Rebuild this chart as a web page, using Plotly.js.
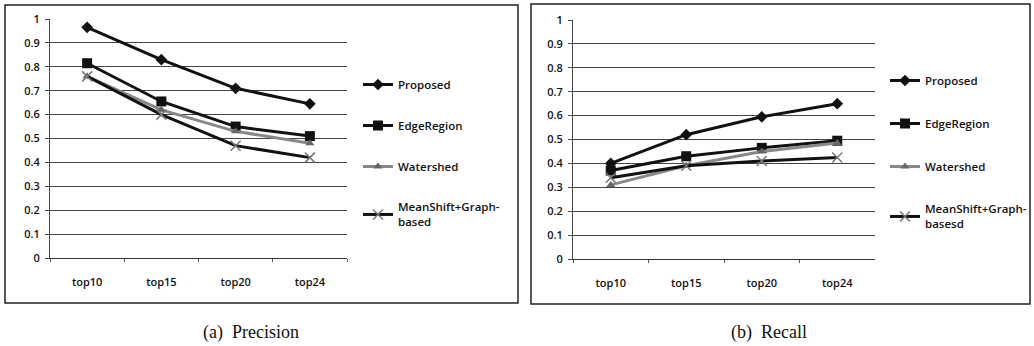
<!DOCTYPE html>
<html>
<head>
<meta charset="utf-8">
<script src="https://cdn.plot.ly/plotly-3.0.1.min.js"></script>
<style>html,body{margin:0;padding:0;background:#fff;}#chart{width:1034px;height:346px;}</style>
</head>
<body>
<div id="chart"></div>
<script>
const categories = ["top10", "top15", "top20", "top24"];
const seriesNames = ["Proposed", "EdgeRegion", "Watershed", "MeanShift+Graph-<br>based"];
const seriesNamesRecall = ["Proposed", "EdgeRegion", "Watershed", "MeanShift+Graph-<br>basesd"];
const precisionProposed = [0.965, 0.83, 0.71, 0.645];
const precisionEdgeRegion = [0.815, 0.655, 0.55, 0.51];
const precisionWatershed = [0.76, 0.62, 0.53, 0.48];
const precisionMeanShift = [0.76, 0.60, 0.47, 0.42];
const recallProposed = [0.40, 0.52, 0.595, 0.65];
const recallEdgeRegion = [0.37, 0.43, 0.465, 0.495];
const recallWatershed = [0.31, 0.39, 0.45, 0.485];
const recallMeanShift = [0.34, 0.39, 0.41, 0.425];
const yTicks = [0, 0.1, 0.2, 0.3, 0.4, 0.5, 0.6, 0.7, 0.8, 0.9, 1];
const yTickLabels = ["0", "0.1", "0.2", "0.3", "0.4", "0.5", "0.6", "0.7", "0.8", "0.9", "1"];
const captions = ["(a)&nbsp;&nbsp;Precision", "(b)&nbsp;&nbsp;Recall"];

const styles = [
  {line: {color: "#111", width: 3}, marker: {symbol: "diamond", size: 9, color: "#111"}},
  {line: {color: "#111", width: 3}, marker: {symbol: "square", size: 10, color: "#111"}},
  {line: {color: "#888", width: 3}, marker: {symbol: "triangle-up", size: 8, color: "#666"}},
  {line: {color: "#111", width: 3}, marker: {symbol: "x-thin-open", size: 10, color: "#777", line: {width: 1.5, color: "#777"}}}
];

function makeTraces(dataSets, names, xa, ya, leg) {
  return dataSets.map((d, i) => ({
    type: "scatter", mode: "lines+markers",
    x: categories, y: d, name: names[i],
    xaxis: xa, yaxis: ya, legend: leg, legendgroup: leg + i,
    line: styles[i].line, marker: styles[i].marker
  }));
}

const traces = [
  ...makeTraces([precisionProposed, precisionEdgeRegion, precisionWatershed, precisionMeanShift], seriesNames, "x", "y", "legend"),
  ...makeTraces([recallProposed, recallEdgeRegion, recallWatershed, recallMeanShift], seriesNamesRecall, "x2", "y2", "legend2")
];

const tickFont = {family: "Open Sans", size: 11, color: "#111", weight: 600};
function xAxis(domain, anchor) {
  return {domain: domain, anchor: anchor, type: "category", range: [-0.5, 3.5], showline: true, linecolor: "#333", linewidth: 1,
    ticks: "outside", tickson: "boundaries", ticklen: 3, tickcolor: "#555", showgrid: false,
    tickfont: tickFont, ticklabelstandoff: 14, fixedrange: true};
}
function yAxis(domain, anchor) {
  return {domain: domain, anchor: anchor, range: [0, 1], tickvals: yTicks, ticktext: yTickLabels,
    showline: true, linecolor: "#444", linewidth: 1, ticks: "outside", ticklen: 4, tickcolor: "#444",
    showgrid: true, gridcolor: "#444", gridwidth: 1, zeroline: false,
    tickfont: tickFont, ticklabelstandoff: 3, fixedrange: true};
}
const legendBase = {font: {family: "Open Sans", size: 11.5, color: "#111", weight: 600}, traceorder: "grouped",
  bgcolor: "rgba(0,0,0,0)", xanchor: "left", yanchor: "top", itemwidth: 30};

const layout = {
  width: 1034, height: 346,
  margin: {l: 0, r: 0, t: 0, b: 0},
  paper_bgcolor: "#fff", plot_bgcolor: "#fff",
  showlegend: true,
  xaxis: xAxis([50/1034, 347/1034], "y"),
  yaxis: yAxis([1 - 258/346, 1 - 19/346], "x"),
  xaxis2: xAxis([573/1034, 875/1034], "y2"),
  yaxis2: yAxis([1 - 259/346, 1 - 20/346], "x2"),
  legend: Object.assign({}, legendBase, {x: 358/1034, y: 1 - 70/346, tracegroupgap: 22}),
  legend2: Object.assign({}, legendBase, {x: 885/1034, y: 1 - 66/346, tracegroupgap: 24}),
  shapes: [
    {type: "rect", xref: "paper", yref: "paper", x0: 5/1034, x1: 518/1034, y0: 1 - 303/346, y1: 1 - 5/346, line: {color: "#222", width: 1.5}},
    {type: "rect", xref: "paper", yref: "paper", x0: 531/1034, x1: 1030/1034, y0: 1 - 304/346, y1: 1 - 4/346, line: {color: "#222", width: 1.5}}
  ],
  annotations: [
    {xref: "paper", yref: "paper", x: 251/1034, y: 1 - 332/346, xanchor: "center", yanchor: "middle", text: captions[0], showarrow: false, font: {family: "Liberation Serif", size: 18, color: "#111"}},
    {xref: "paper", yref: "paper", x: 769/1034, y: 1 - 332/346, xanchor: "center", yanchor: "middle", text: captions[1], showarrow: false, font: {family: "Liberation Serif", size: 18, color: "#111"}}
  ]
};

Plotly.newPlot("chart", traces, layout, {staticPlot: true, displayModeBar: false});
</script>
</body>
</html>
